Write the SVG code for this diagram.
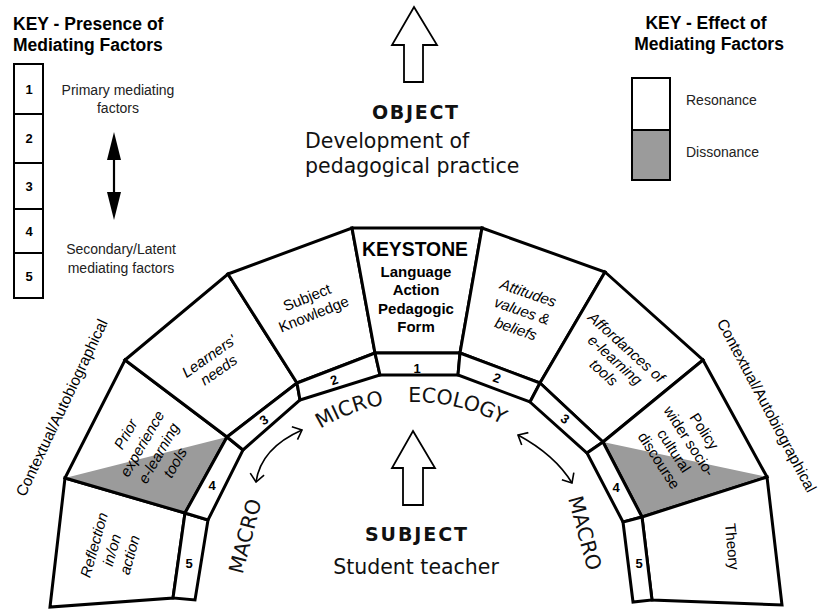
<svg xmlns="http://www.w3.org/2000/svg" width="820" height="610" viewBox="0 0 820 610">
<defs>
<style>
.blk{fill:#fff;stroke:#000;stroke-width:3;stroke-linejoin:miter}
.ol{fill:none;stroke:#000;stroke-width:3;stroke-linejoin:miter}
.gray{fill:#9b9b9b}
.lbl{font-family:"Liberation Sans",Arial,sans-serif;font-size:15px;text-anchor:middle;fill:#000}
.it{font-style:italic}
.num{font-family:"Liberation Sans",Arial,sans-serif;font-weight:bold;font-size:13px;text-anchor:middle;fill:#000}
.ks{font-family:"Liberation Sans",Arial,sans-serif;font-weight:bold;font-size:15px;text-anchor:middle;fill:#000}
.side{font-family:"Liberation Sans",Arial,sans-serif;font-size:15.5px;text-anchor:middle;fill:#000}
.hdr{font-family:"Liberation Sans",Arial,sans-serif;font-weight:bold;font-size:17.5px;fill:#000}
.key{font-family:"Liberation Sans",Arial,sans-serif;font-size:14px;fill:#222}
.verd{font-family:"DejaVu Sans",Verdana,sans-serif;fill:#111}
.thin{fill:#fff;stroke:#000;stroke-width:2}
.conn{fill:none;stroke:#000;stroke-width:1.6}
</style>
<marker id="v" viewBox="0 0 10 16" refX="9" refY="8" markerWidth="10" markerHeight="16" orient="auto-start-reverse" markerUnits="userSpaceOnUse">
<path d="M1,1 L9,8 L1,15" fill="none" stroke="#000" stroke-width="1.6"/>
</marker>
<path id="arc" d="M235,582 A180,180 0 0 1 595,582"/>
</defs>
<rect width="820" height="610" fill="#fff"/>

<!-- Left key -->
<g id="key-presence">
<text class="hdr" x="13" y="30">KEY - Presence of</text>
<text class="hdr" x="13" y="51">Mediating Factors</text>
<rect class="thin" x="14" y="64" width="29" height="50"/>
<rect class="thin" x="14" y="114" width="29" height="49"/>
<rect class="thin" x="14" y="163" width="29" height="46"/>
<rect class="thin" x="14" y="209" width="29" height="44"/>
<rect class="thin" x="14" y="253" width="29" height="45"/>
<text class="num" x="29" y="94">1</text>
<text class="num" x="29" y="143">2</text>
<text class="num" x="29" y="191">3</text>
<text class="num" x="29" y="236">4</text>
<text class="num" x="29" y="281">5</text>
<text class="key" x="118" y="95" text-anchor="middle">Primary mediating</text>
<text class="key" x="118" y="113" text-anchor="middle">factors</text>
<text class="key" x="121" y="254" text-anchor="middle">Secondary/Latent</text>
<text class="key" x="121" y="273" text-anchor="middle">mediating factors</text>
<line x1="114" y1="150" x2="114" y2="202" stroke="#000" stroke-width="2.2"/>
<polygon points="114,132 107,160 121,160" fill="#000"/>
<polygon points="114,220 107,192 121,192" fill="#000"/>
</g>

<!-- Right key -->
<g id="key-effect">
<text class="hdr" x="706" y="29" text-anchor="middle">KEY - Effect of</text>
<text class="hdr" x="709" y="50" text-anchor="middle">Mediating Factors</text>
<rect class="thin" x="632" y="78" width="38" height="52"/>
<rect x="632" y="130" width="38" height="50" fill="#9b9b9b" stroke="#000" stroke-width="2"/>
<text class="key" x="686" y="105">Resonance</text>
<text class="key" x="686" y="157">Dissonance</text>
</g>

<!-- Object -->
<g id="object">
<polygon points="414,7 437,45 423,45 423,82 404,82 404,45 392,45" fill="#fff" stroke="#000" stroke-width="1.8"/>
<text class="verd" x="415" y="119" font-size="19" font-weight="bold" text-anchor="middle" textLength="86" lengthAdjust="spacing">OBJECT</text>
<text class="verd" x="305" y="148" font-size="20.5">Development of</text>
<text class="verd" x="305" y="173" font-size="20.5">pedagogical practice</text>
</g>

<!-- Arch blocks -->
<g id="reflection">
<polygon class="blk" points="50,607 65,478 185,513 173,598"/>
<g transform="translate(112,550) rotate(-74.5)"><text class="lbl it" y="-13.5">Reflection</text><text class="lbl it" y="5">in/on</text><text class="lbl it" y="23.5">action</text></g>
</g>
<g id="strip5-left">
<polygon class="blk" points="173,598 185,513 208,520 195,600"/>
<text class="num" x="189" y="567.5">5</text>
</g>
<g id="prior-experience">
<polygon points="65,478 125,360 227,437 185,513" fill="#fff"/>
<polygon class="gray" points="65,478 227,437 185,513"/>
<polygon class="ol" points="65,478 125,360 227,437 185,513"/>
<g transform="translate(150.5,448.5) rotate(-60)"><text class="lbl it" y="-23.5">Prior</text><text class="lbl it" y="-4.5">experience</text><text class="lbl it" y="14.5">e-learning</text><text class="lbl it" y="33.5">tools</text></g>
</g>
<g id="strip4-left">
<polygon class="blk" points="185,513 227,437 243,450 208,520"/>
<text class="num" x="212" y="489.5">4</text>
</g>
<g id="learners-needs">
<polygon class="blk" points="125,360 228,274 297,383 227,437"/>
<g transform="translate(213,362) rotate(-35)"><text class="lbl it" y="-2">Learners'</text><text class="lbl it" y="15">needs</text></g>
</g>
<g id="strip3-left">
<polygon class="blk" points="227,437 297,383 300,400 243,450"/>
<g transform="translate(264,420) rotate(-35)"><text class="num" y="4.5">3</text></g>
</g>
<g id="subject-knowledge">
<polygon class="blk" points="228,274 352,228 375,353 297,383"/>
<g transform="translate(310,305) rotate(-22)"><text class="lbl" y="-3">Subject</text><text class="lbl" y="15">Knowledge</text></g>
</g>
<g id="strip2-left">
<polygon class="blk" points="297,383 375,353 380,375 300,400"/>
<g transform="translate(334,380) rotate(-20)"><text class="num" y="4.5">2</text></g>
</g>
<g id="keystone">
<polygon class="blk" points="352,228 482,228 460,353 375,353"/>
<text x="415" y="256" font-family="Liberation Sans, Arial, sans-serif" font-weight="bold" font-size="20" text-anchor="middle" textLength="106" lengthAdjust="spacingAndGlyphs" fill="#000">KEYSTONE</text>
<text class="ks" x="416" y="277">Language</text>
<text class="ks" x="416" y="295">Action</text>
<text class="ks" x="416" y="314">Pedagogic</text>
<text class="ks" x="416" y="332">Form</text>
</g>
<g id="strip1">
<polygon class="blk" points="375,353 460,353 458,375 380,375"/>
<text class="num" x="417" y="372.5">1</text>
</g>
<g id="attitudes">
<polygon class="blk" points="482,228 605,272 540,383 460,353"/>
<g transform="translate(522,311) rotate(19)"><text class="lbl it" y="-14">Attitudes</text><text class="lbl it" y="5">values &amp;</text><text class="lbl it" y="24">beliefs</text></g>
</g>
<g id="strip2-right">
<polygon class="blk" points="460,353 540,383 530,402 458,375"/>
<g transform="translate(497,378) rotate(20)"><text class="num" y="4.5">2</text></g>
</g>
<g id="affordances">
<polygon class="blk" points="605,272 703,360 603,442 540,383"/>
<g transform="translate(615,360) rotate(42)"><text class="lbl it" y="-12">Affordances of</text><text class="lbl it" y="5">e-learning</text><text class="lbl it" y="22">tools</text></g>
</g>
<g id="strip3-right">
<polygon class="blk" points="540,383 603,442 587,453 530,402"/>
<g transform="translate(565,419) rotate(35)"><text class="num" y="4.5">3</text></g>
</g>
<g id="policy">
<polygon points="703,360 767,477 642,517 603,442" fill="#fff"/>
<polygon class="gray" points="603,442 767,477 642,517"/>
<polygon class="ol" points="703,360 767,477 642,517 603,442"/>
<g transform="translate(681.5,446) rotate(57)"><text class="lbl" y="-22">Policy</text><text class="lbl" y="-4">wider socio-</text><text class="lbl" y="14">cultural</text><text class="lbl" y="32">discourse</text></g>
</g>
<g id="strip4-right">
<polygon class="blk" points="603,442 642,517 623,522 587,453"/>
<text class="num" x="616" y="491.5">4</text>
</g>
<g id="theory">
<polygon class="blk" points="767,477 782,605 652,600 642,517"/>
<g transform="translate(727,547) rotate(85)"><text class="lbl">Theory</text></g>
</g>
<g id="strip5-right">
<polygon class="blk" points="642,517 652,600 633,602 623,522"/>
<text class="num" x="639" y="567.5">5</text>
</g>

<!-- side labels -->
<g id="context-left"><g transform="translate(66.5,410) rotate(-64.6)"><text class="side">Contextual/Autobiographical</text></g></g>
<g id="context-right"><g transform="translate(762,408) rotate(62)"><text class="side">Contextual/Autobiographical</text></g></g>

<!-- ecology labels -->
<g id="micro-ecology">
<text class="verd" font-size="20.5"><textPath href="#arc" startOffset="183">MICRO</textPath></text>
<text class="verd" font-size="20.5"><textPath href="#arc" startOffset="276">ECOLOGY</textPath></text>
</g>
<g id="macro-left"><g transform="translate(252,538) rotate(-75.5)"><text class="verd" font-size="20.5" text-anchor="middle">MACRO</text></g></g>
<g id="macro-right"><g transform="translate(578,535) rotate(74.7)"><text class="verd" font-size="20.5" text-anchor="middle">MACRO</text></g></g>

<!-- Subject -->
<g id="subject">
<polygon points="413,431 435,468 423,468 423,505 403,505 403,468 392,468" fill="#fff" stroke="#000" stroke-width="1.8"/>
<text class="verd" x="416" y="541" font-size="19" font-weight="bold" text-anchor="middle" textLength="102" lengthAdjust="spacing">SUBJECT</text>
<text class="verd" x="416" y="574" font-size="20.5" text-anchor="middle">Student teacher</text>
</g>

<!-- connectors -->
<g id="connectors">
<path class="conn" d="M302,430 Q261,448 256,482" marker-start="url(#v)" marker-end="url(#v)"/>
<path class="conn" d="M518,435 Q555,455 572,483" marker-start="url(#v)" marker-end="url(#v)"/>
</g>
</svg>
